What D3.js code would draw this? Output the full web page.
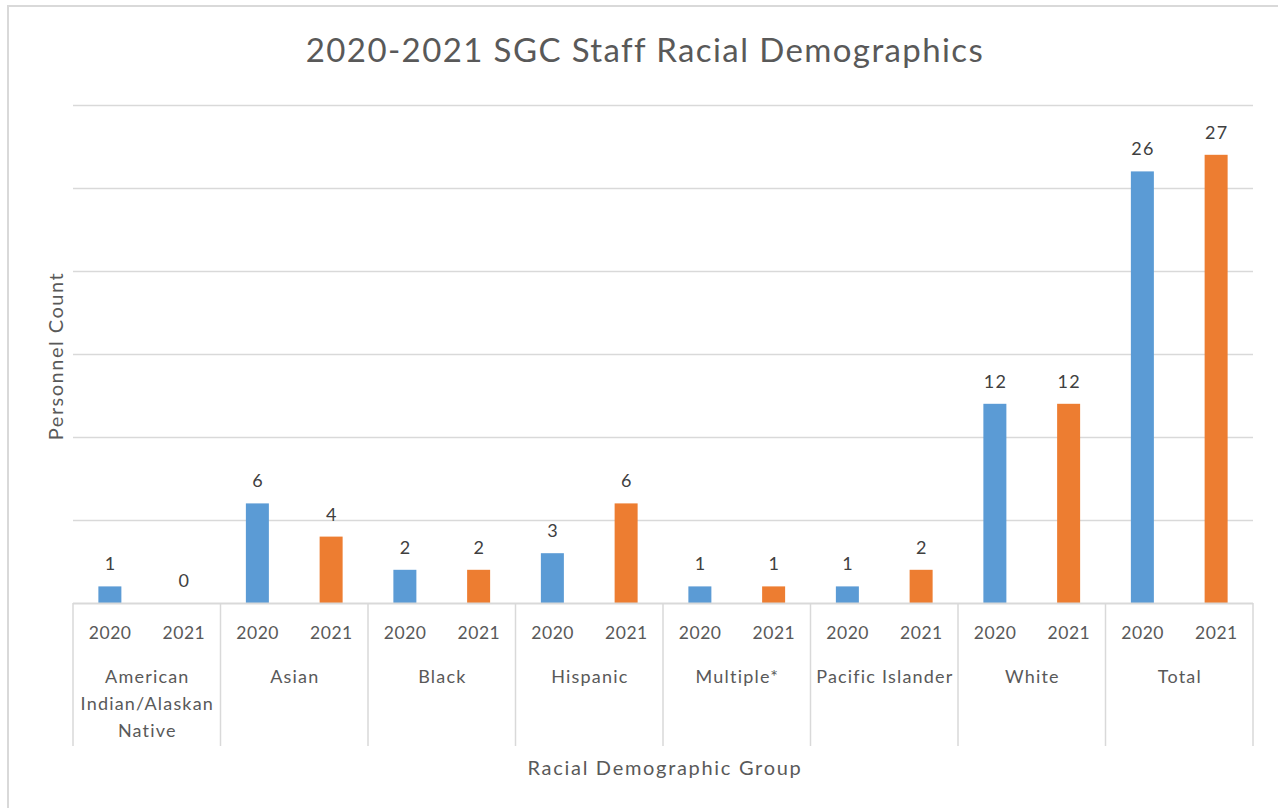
<!DOCTYPE html>
<html><head><meta charset="utf-8">
<script src="https://cdn.jsdelivr.net/npm/d3@7"></script>
<style>body{margin:0;background:#fff}svg{display:block}text{font-family:Lato,"Open Sans",sans-serif}</style>
</head><body><svg id="c" width="1278" height="808"></svg>
<script>
const groups = ["American Indian/Alaskan Native","Asian","Black","Hispanic","Multiple*","Pacific Islander","White","Total"];
const groupLines = [["American","Indian/Alaskan","Native"],["Asian"],["Black"],["Hispanic"],["Multiple*"],["Pacific Islander"],["White"],["Total"]];
const years = ["2020","2021"];
const values2020 = [1,6,2,3,1,1,12,26];
const values2021 = [0,4,2,6,1,2,12,27];
const yTicks = [0,5,10,15,20,25,30];
const colors = {"2020":"#5b9bd5","2021":"#ed7d31"};

const svg = d3.select("#c");
const L=73,R=1253,T=105,B=603;
// outer border
svg.append("line").attr("x1",7).attr("x2",1278).attr("y1",6).attr("y2",6).attr("stroke","#d9d9d9").attr("stroke-width",2);
svg.append("line").attr("x1",8).attr("x2",8).attr("y1",5).attr("y2",808).attr("stroke","#d9d9d9").attr("stroke-width",2);

const x0 = d3.scaleBand().domain(groups).range([L,R]).padding(0);
const x1 = d3.scaleBand().domain(years).range([0,x0.bandwidth()]).padding(0);
const y = d3.scaleLinear().domain([0,30]).range([B,T]);

// gridlines
svg.append("g").selectAll("line").data(yTicks.filter(d=>d>0)).join("line")
 .attr("x1",L).attr("x2",R).attr("y1",d=>y(d)+0.5).attr("y2",d=>y(d)+0.5)
 .attr("stroke","#d9d9d9").attr("stroke-width",1.3);

const data = [];
groups.forEach((g,i)=>{data.push({g,yr:"2020",v:values2020[i]});data.push({g,yr:"2021",v:values2021[i]});});
const bw = 23;
svg.append("g").selectAll("rect").data(data).join("rect")
 .attr("x",d=>x0(d.g)+x1(d.yr)+x1.bandwidth()/2-bw/2)
 .attr("width",bw)
 .attr("y",d=>y(d.v)).attr("height",d=>y(0)-y(d.v))
 .attr("fill",d=>colors[d.yr]);
svg.append("g").selectAll("text").data(data).join("text")
 .attr("x",d=>x0(d.g)+x1(d.yr)+x1.bandwidth()/2+0.7)
 .attr("y",d=>y(d.v)-16)
 .attr("text-anchor","middle").attr("font-size",18).attr("letter-spacing",1.4).attr("fill","#404040")
 .text(d=>d.v);

// axis baseline
svg.append("line").attr("x1",L).attr("x2",R).attr("y1",B+0.5).attr("y2",B+0.5).attr("stroke","#d9d9d9").attr("stroke-width",2);
// group separators
const seps = groups.map(g=>x0(g)).concat([R]);
svg.append("g").selectAll("line").data(seps).join("line")
 .attr("x1",d=>d).attr("x2",d=>d).attr("y1",B).attr("y2",746)
 .attr("stroke","#d9d9d9").attr("stroke-width",1.5);
// year labels
svg.append("g").selectAll("text").data(data).join("text")
 .attr("x",d=>x0(d.g)+x1(d.yr)+x1.bandwidth()/2+0.3)
 .attr("y",639).attr("text-anchor","middle").attr("font-size",17.5).attr("letter-spacing",0.5).attr("fill","#595959")
 .text(d=>d.yr);
// group labels
groups.forEach((g,i)=>{
  const cx = x0(g)+x0.bandwidth()/2+0.6;
  const t = svg.append("text").attr("y",683)
    .attr("text-anchor","middle").attr("font-size",18).attr("letter-spacing",1.2).attr("fill","#595959");
  groupLines[i].forEach((ln,j)=>t.append("tspan").attr("x",cx).attr("y",683+j*27).text(ln));
});
// titles
svg.append("text").attr("x",645).attr("y",62).attr("text-anchor","middle").attr("font-size",33).attr("letter-spacing",1.4).attr("fill","#595959").text("2020-2021 SGC Staff Racial Demographics");
svg.append("text").attr("x",665).attr("y",775).attr("text-anchor","middle").attr("font-size",20).attr("letter-spacing",1.7).attr("fill","#595959").text("Racial Demographic Group");
svg.append("text").attr("transform","translate(63,356) rotate(-90)").attr("text-anchor","middle").attr("font-size",20).attr("letter-spacing",1.5).attr("fill","#595959").text("Personnel Count");
</script></body></html>
